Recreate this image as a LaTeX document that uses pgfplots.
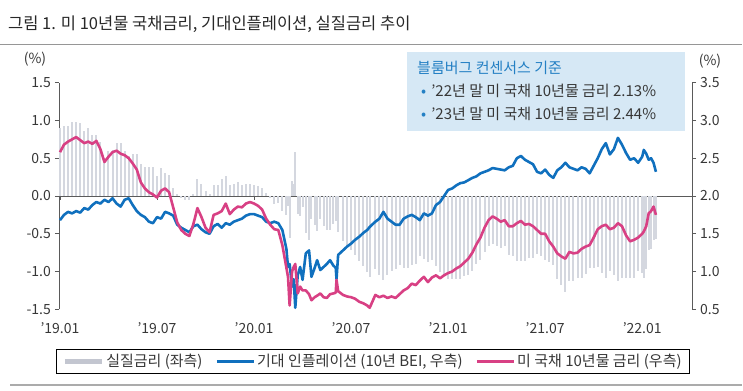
\documentclass[border=0pt]{standalone}
\usepackage{fontspec}
\setmainfont{Noto Sans CJK KR}
\usepackage{pgfplots}
\pgfplotsset{compat=1.18}
\usepackage{pgfplotstable}

\definecolor{bei}{RGB}{16,112,190}
\definecolor{ust}{RGB}{216,64,132}
\definecolor{rr}{RGB}{212,215,223}
\definecolor{rrleg}{RGB}{195,198,208}
\definecolor{axisgray}{RGB}{90,90,90}
\definecolor{txt}{RGB}{55,55,55}
\definecolor{boxfill}{RGB}{214,232,245}
\definecolor{boxblue}{RGB}{36,128,196}
\definecolor{rulegray}{RGB}{150,150,150}

% m = months since 2019-01; bei, ust: right axis (%); real: left axis (%)
\pgfplotstableread{
m bei ust real
0.00 1.68 2.58 0.90
0.25 1.75 2.68 0.93
0.50 1.79 2.72 0.93
0.75 1.77 2.75 0.98
1.00 1.80 2.78 0.98
1.25 1.78 2.74 0.96
1.50 1.84 2.70 0.86
1.75 1.82 2.72 0.90
2.00 1.88 2.69 0.81
2.25 1.92 2.73 0.81
2.50 1.90 2.62 0.72
2.75 1.95 2.45 0.50
3.00 1.92 2.52 0.60
3.25 1.97 2.58 0.61
3.50 1.90 2.60 0.70
3.75 1.86 2.56 0.70
4.00 1.95 2.54 0.59
4.25 1.97 2.50 0.53
4.50 1.88 2.43 0.55
4.75 1.80 2.35 0.55
5.00 1.75 2.18 0.43
5.25 1.72 2.10 0.38
5.50 1.66 2.05 0.39
5.75 1.64 2.02 0.38
6.00 1.72 1.98 0.26
6.25 1.70 2.07 0.37
6.50 1.79 2.10 0.31
6.75 1.77 2.05 0.28
7.00 1.74 1.85 0.11
7.25 1.62 1.65 0.03
7.50 1.58 1.55 -0.03
7.75 1.55 1.50 -0.05
8.00 1.52 1.47 -0.05
8.25 1.60 1.63 0.03
8.50 1.62 1.84 0.22
8.75 1.56 1.72 0.16
9.00 1.52 1.58 0.06
9.25 1.50 1.52 0.02
9.50 1.60 1.75 0.15
9.75 1.63 1.77 0.14
10.00 1.58 1.80 0.22
10.25 1.64 1.90 0.26
10.50 1.62 1.76 0.14
10.75 1.66 1.82 0.16
11.00 1.68 1.86 0.18
11.25 1.70 1.85 0.15
11.50 1.74 1.90 0.16
11.75 1.76 1.92 0.16
12.00 1.76 1.90 0.14
12.25 1.74 1.87 0.13
12.50 1.72 1.82 0.10
12.75 1.66 1.70 0.04
13.00 1.64 1.62 -0.02
13.25 1.66 1.56 -0.10
13.50 1.64 1.55 -0.09
13.75 1.55 1.35 -0.20
14.00 1.30 1.05 -0.25
14.10 1.06 0.93 -0.13
14.20 1.10 0.55 -0.55
14.35 0.80 1.00 0.20
14.45 0.90 1.06 0.16
14.55 0.52 1.10 0.58
14.70 0.95 0.71 -0.24
14.85 1.06 0.80 -0.26
15.00 0.89 0.75 -0.14
15.20 1.24 0.75 -0.49
15.40 1.28 0.70 -0.58
15.55 0.93 0.62 -0.31
15.75 1.05 0.66 -0.39
15.90 1.15 0.68 -0.47
16.10 1.02 0.71 -0.31
16.30 1.06 0.66 -0.40
16.50 1.10 0.65 -0.45
16.70 1.15 0.70 -0.45
16.90 1.08 0.71 -0.37
17.05 1.05 0.72 -0.33
17.10 0.90 0.89 -0.01
17.20 1.22 0.74 -0.48
17.50 1.28 0.69 -0.59
17.75 1.33 0.67 -0.66
18.00 1.37 0.66 -0.71
18.25 1.42 0.64 -0.78
18.50 1.46 0.60 -0.86
18.75 1.51 0.58 -0.93
19.00 1.55 0.55 -1.00
19.15 1.59 0.52 -1.07
19.50 1.66 0.69 -0.97
19.75 1.70 0.66 -1.04
20.00 1.79 0.68 -1.11
20.25 1.70 0.65 -1.05
20.50 1.66 0.67 -0.99
20.75 1.62 0.65 -0.97
21.00 1.62 0.70 -0.92
21.25 1.70 0.75 -0.95
21.50 1.73 0.78 -0.95
21.75 1.75 0.84 -0.91
22.00 1.72 0.82 -0.90
22.25 1.68 0.88 -0.80
22.50 1.77 0.93 -0.84
22.75 1.74 0.86 -0.88
23.00 1.77 0.92 -0.85
23.25 1.88 0.95 -0.93
23.50 1.92 0.91 -1.01
23.75 2.00 0.95 -1.05
24.00 2.08 0.98 -1.10
24.25 2.10 1.00 -1.10
24.50 2.14 1.04 -1.10
24.75 2.17 1.07 -1.10
25.00 2.18 1.12 -1.06
25.25 2.21 1.17 -1.04
25.50 2.24 1.25 -0.99
25.75 2.26 1.36 -0.90
26.00 2.30 1.45 -0.85
26.25 2.32 1.58 -0.74
26.50 2.34 1.68 -0.66
26.75 2.37 1.73 -0.64
27.00 2.36 1.70 -0.66
27.25 2.35 1.66 -0.69
27.50 2.34 1.68 -0.66
27.75 2.38 1.60 -0.78
28.00 2.40 1.60 -0.80
28.25 2.50 1.64 -0.86
28.50 2.53 1.67 -0.86
28.75 2.48 1.62 -0.86
29.00 2.45 1.63 -0.82
29.25 2.42 1.60 -0.82
29.50 2.32 1.55 -0.77
29.75 2.30 1.50 -0.80
30.00 2.35 1.50 -0.85
30.25 2.28 1.40 -0.88
30.50 2.24 1.33 -0.91
30.75 2.34 1.24 -1.10
31.00 2.38 1.20 -1.18
31.25 2.44 1.17 -1.27
31.50 2.38 1.26 -1.12
31.75 2.36 1.24 -1.12
32.00 2.34 1.25 -1.09
32.25 2.38 1.30 -1.08
32.50 2.36 1.33 -1.03
32.75 2.30 1.35 -0.95
33.00 2.40 1.45 -0.95
33.25 2.50 1.56 -0.94
33.50 2.62 1.60 -1.02
33.75 2.70 1.62 -1.08
34.00 2.55 1.56 -0.99
34.25 2.62 1.58 -1.04
34.50 2.77 1.64 -1.13
34.75 2.68 1.60 -1.08
35.00 2.57 1.48 -1.09
35.25 2.48 1.40 -1.08
35.50 2.50 1.42 -1.08
35.75 2.44 1.45 -0.99
36.00 2.52 1.50 -1.02
36.10 2.61 1.53 -1.08
36.25 2.56 1.60 -0.96
36.40 2.48 1.77 -0.71
36.55 2.50 1.80 -0.70
36.70 2.44 1.86 -0.58
36.85 2.32 1.75 -0.57
}\datatable

\newcommand{\tickfont}{\fontsize{14bp}{16bp}\selectfont}
\newcommand{\boxfont}{\fontsize{15bp}{18bp}\selectfont}

\begin{document}
\begin{tikzpicture}
\useasboundingbox (0,0) rectangle (743bp,391bp);
% title and rules
\node[anchor=base west, inner sep=0pt, text={rgb,255:red,40;green,40;blue,40}, font=\fontsize{16.5bp}{19bp}\selectfont] at (8bp,361bp) {그림 1. 미 10년물 국채금리, 기대인플레이션, 실질금리 추이};
\draw[rulegray, line width=1.3bp] (0bp,346.5bp) -- (742bp,346.5bp);
\draw[rulegray!80, line width=1.3bp] (10bp,6bp) -- (742bp,6bp);

% left axis: real rate
\begin{axis}[
  at={(59bp,81.7bp)}, anchor=south west,
  scale only axis, width=633bp, height=226.6bp,
  xmin=-0.06, xmax=39.08, ymin=-1.5, ymax=1.5,
  axis x line=middle, axis y line=left,
  axis line style={-, draw=axisgray, line width=0.9bp},
  hide obscured x ticks=false, hide obscured y ticks=false,
  xtick={0,6,12,18,24,30,36}, xticklabels={},
  ytick={-1.5,-1,-0.5,0,0.5,1,1.5},
  yticklabels={-1.5,-1.0,-0.5,0.0,0.5,1.0,1.5},
  tick style={draw=axisgray, line width=0.9bp},
  major tick length=4bp,
  tick align=outside,
  yticklabel style={font=\tickfont, text=txt, inner sep=0pt, anchor=east, xshift=-4bp},
  clip=false,
]
\addplot[ycomb, draw=rr, line width=2bp] table[x=m, y=real] {\datatable};
\end{axis}

% right axis: BEI and 10Y yield
\begin{axis}[
  at={(59bp,81.7bp)}, anchor=south west,
  scale only axis, width=633bp, height=226.6bp,
  xmin=-0.06, xmax=39.08, ymin=0.5, ymax=3.5,
  axis y line*=right, axis x line*=bottom,
  x axis line style={draw=none},
  y axis line style={-, draw=axisgray, line width=0.9bp},
  xtick={0,6,12,18,24,30,36},
  xticklabels={'19.01,'19.07,'20.01,'20.07,'21.01,'21.07,'22.01},
  xtick style={draw=none},
  ytick={0.5,1,1.5,2,2.5,3,3.5},
  yticklabels={0.5,1.0,1.5,2.0,2.5,3.0,3.5},
  ytick style={draw=axisgray, line width=0.9bp},
  major tick length=4bp,
  tick align=outside,
  xticklabel style={font=\tickfont, text=txt, inner sep=0pt, anchor=north, yshift=-9bp},
  yticklabel style={font=\tickfont, text=txt, inner sep=0pt, anchor=west, xshift=4bp},
  legend columns=3,
  legend style={at={(0.496,-0.2304)}, anchor=center, draw=black, line width=0.6bp,
    font=\fontsize{15bp}{18bp}\selectfont, text=txt, inner xsep=6bp, inner ysep=3bp,
    /tikz/every even column/.append style={column sep=11bp}},
  legend cell align=left,
  legend image code/.code={\draw[#1] (0bp,0bp) -- (37bp,0bp);},
  clip=false,
]
\addlegendimage{draw=rrleg, line width=5bp}
\addlegendentry{실질금리 (좌측)}
\addplot[draw=bei, line width=2.6bp, line join=round] table[x=m, y=bei] {\datatable};
\addlegendentry{기대 인플레이션 (10년 BEI, 우측)}
\addplot[draw=ust, line width=2.6bp, line join=round] table[x=m, y=ust] {\datatable};
\addlegendentry{미 국채 10년물 금리 (우측)}
\end{axis}

% unit labels
\node[text=txt, font=\tickfont, inner sep=0pt] at (35bp,332bp) {(\%)};
\node[text=txt, font=\tickfont, inner sep=0pt] at (710bp,330bp) {(\%)};

% consensus box
\fill[boxfill] (407bp,260bp) rectangle (685bp,339bp);
\node[anchor=base west, inner sep=0pt, text=boxblue, font=\boxfont] at (417bp,317bp) {블룸버그 컨센서스 기준};
\node[anchor=base west, inner sep=0pt, text=txt, font=\boxfont] at (421bp,294bp) {\textcolor{boxblue}{•}\hspace{5bp}'22년 말 미 국채 10년물 금리 2.13\%};
\node[anchor=base west, inner sep=0pt, text=txt, font=\boxfont] at (421bp,271bp) {\textcolor{boxblue}{•}\hspace{5bp}'23년 말 미 국채 10년물 금리 2.44\%};
\end{tikzpicture}
\end{document}
